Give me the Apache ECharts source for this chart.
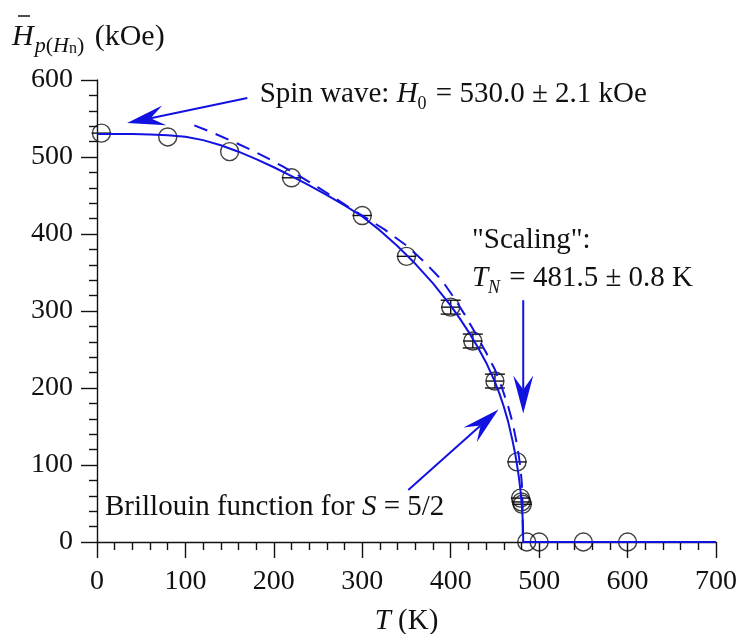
<!DOCTYPE html>
<html>
<head>
<meta charset="utf-8">
<script src="https://cdn.jsdelivr.net/npm/echarts@6/dist/echarts.min.js"></script>
<style>
  html, body { margin: 0; padding: 0; background: #fff; }
  #chart { width: 740px; height: 634px; }
</style>
</head>
<body>
<div id="chart"></div>
<script>
const BLUE = '#1212e0';
const INK = '#111111';
const FONT = '"Liberation Serif", "Times New Roman", serif';

// Axis ranges
const xRange = [0, 700];
const xStep = 100;
const yRange = [0, 600];
const yStep = 100;

// Measured mean hyperfine field versus temperature
const tempK    = [5, 80, 150, 220, 300, 350, 400, 425, 450, 475, 479, 480, 481, 486, 500, 550, 600];
const fieldKOe = [531, 526, 507, 473, 424, 371, 305, 261, 209, 104, 57, 52, 49, 0, 0, 0, 0];
const tempErr  = [11, 0, 0, 11, 11, 11, 11, 11, 10, 11, 11, 11, 11, 0, 0, 0, 0];
const fieldErr = [0, 0, 0, 0, 0, 0, 9, 9, 9, 0, 0, 0, 0, 0, 0, 0, 0];

// Brillouin function for S = 5/2 (solid curve)
const brillouinT = [0, 20, 40, 60, 80, 100, 120, 140, 160, 180, 200, 220, 240, 260, 280, 300, 320, 340, 360, 380, 400, 410, 420, 430, 440, 450, 455, 460, 465, 470, 473, 475, 477, 479, 480, 481, 481.5, 481.8, 482, 700];
const brillouinH = [530, 530, 529.8, 529.3, 528.3, 526.3, 521.9, 515.3, 506.9, 497.3, 486.7, 475.1, 463.1, 450.5, 437.1, 422.7, 404.7, 384.1, 361.3, 335.9, 306.9, 290.7, 273.2, 254.2, 233.2, 208, 193, 176, 156, 131, 114, 100, 85, 66, 53, 38, 27, 17, 0, 0];

// Critical scaling law (dashed curve)
const scalingT = [110, 130, 150, 170, 190, 210, 230, 250, 270, 290, 300, 325, 350, 370, 390, 405, 416, 426, 440, 450, 458, 465, 470, 474, 477, 479, 480.5, 481.2, 481.5];
const scalingH = [541, 532, 522, 511.6, 500.2, 487.8, 474.6, 460.6, 446, 431, 424, 406, 385, 364, 340, 315, 295, 275, 246, 224, 200, 176, 155, 132, 112, 95, 75, 50, 0];

// Annotation anchors in data coordinates [T, H]
const spinArrow = [[170, 576.6], [34, 544]];
const scalingArrow = [[482, 314], [482, 167]];
const brillouinArrow = [[352, 67.5], [454, 172]];
const spinLabelAt = [184, 568.5];
const scalingLabelAt = [424, 379];
const tnLabelAt = [424, 330];
const brillouinLabelAt = [9, 32.5];

const chart = echarts.init(document.getElementById('chart'), null, { renderer: 'canvas' });

const axisCommon = {
  type: 'value',
  axisLine: { show: true, onZero: false, lineStyle: { color: INK, width: 1.4 } },
  axisTick: { show: true, inside: false, length: 16, lineStyle: { color: INK, width: 1.4 } },
  minorTick: { show: true, splitNumber: 5, length: 8, lineStyle: { color: INK, width: 1.4 } },
  splitLine: { show: false },
  minorSplitLine: { show: false }
};

const errorData = tempK.map((t, i) => [t, fieldKOe[i], tempErr[i], fieldErr[i]]);

const option = {
  animation: false,
  backgroundColor: '#ffffff',
  grid: { left: 97, right: 24, top: 80, bottom: 92, containLabel: false },
  xAxis: Object.assign({}, axisCommon, {
    min: xRange[0], max: xRange[1], interval: xStep,
    axisLabel: { fontFamily: FONT, fontSize: 28, color: INK, margin: 26 }
  }),
  yAxis: Object.assign({}, axisCommon, {
    min: yRange[0], max: yRange[1], interval: yStep,
    axisLabel: { fontFamily: FONT, fontSize: 28, color: INK, margin: 24 }
  }),
  series: [
    {
      type: 'custom',
      z: 3,
      data: errorData,
      encode: { x: 0, y: 1 },
      renderItem: function (params, api) {
        const t = api.value(0), h = api.value(1), dt = api.value(2), dh = api.value(3);
        const style = { stroke: INK, lineWidth: 1.4 };
        const kids = [];
        if (dt > 0) {
          const a = api.coord([t - dt, h]), b = api.coord([t + dt, h]);
          kids.push({ type: 'line', shape: { x1: a[0], y1: a[1], x2: b[0], y2: b[1] }, style: style });
        }
        if (dh > 0) {
          const a = api.coord([t, h - dh]), b = api.coord([t, h + dh]);
          const cap = 10;
          kids.push({ type: 'line', shape: { x1: a[0], y1: a[1], x2: b[0], y2: b[1] }, style: style });
          kids.push({ type: 'line', shape: { x1: a[0] - cap, y1: a[1], x2: a[0] + cap, y2: a[1] }, style: style });
          kids.push({ type: 'line', shape: { x1: b[0] - cap, y1: b[1], x2: b[0] + cap, y2: b[1] }, style: style });
        }
        return { type: 'group', children: kids };
      }
    },
    {
      type: 'scatter',
      z: 4,
      data: tempK.map((t, i) => [t, fieldKOe[i]]),
      symbol: 'circle',
      symbolSize: 18,
      itemStyle: { color: 'rgba(0,0,0,0)', borderColor: INK, borderWidth: 1.4 }
    },
    {
      type: 'line',
      z: 5,
      data: brillouinT.map((t, i) => [t, brillouinH[i]]),
      showSymbol: false,
      symbol: 'none',
      smooth: false,
      lineStyle: { color: BLUE, width: 2 }
    },
    {
      type: 'line',
      z: 5,
      data: scalingT.map((t, i) => [t, scalingH[i]]),
      showSymbol: false,
      symbol: 'none',
      smooth: false,
      lineStyle: { color: BLUE, width: 2, type: [14, 9] }
    }
  ]
};

chart.setOption(option);

// ---- annotations ----
const measureCtx = document.createElement('canvas').getContext('2d');
const toPx = (p) => chart.convertToPixel({ gridIndex: 0 }, p);

function pieceFont(p) {
  return (p.italic ? 'italic' : 'normal') + ' ' + p.size + 'px ' + FONT;
}

function textRun(x, baseline, pieces, color) {
  const els = [];
  let cx = x;
  pieces.forEach(function (p) {
    measureCtx.font = pieceFont(p);
    const w = measureCtx.measureText(p.text).width;
    const by = baseline + (p.dy || 0);
    els.push({
      type: 'text', x: cx, y: by - 0.3375 * p.size, silent: true, z: 10,
      style: {
        text: p.text, fontFamily: FONT, fontSize: p.size, fontStyle: p.italic ? 'italic' : 'normal',
        fill: color, align: 'left', verticalAlign: 'middle'
      }
    });
    cx += w + (p.gap || 0);
  });
  return { els: els, width: cx - x };
}

function measureRun(pieces) {
  let w = 0;
  pieces.forEach(function (p) {
    measureCtx.font = pieceFont(p);
    w += measureCtx.measureText(p.text).width + (p.gap || 0);
  });
  return w;
}

function arrow(from, to, color) {
  const a = toPx(from), b = toPx(to);
  const dx = b[0] - a[0], dy = b[1] - a[1];
  const len = Math.hypot(dx, dy);
  const ux = dx / len, uy = dy / len, nx = -uy, ny = ux;
  const headLen = 38, headW = 10, notch = 24;
  const bx = b[0] - ux * headLen, by = b[1] - uy * headLen;
  const mx = b[0] - ux * notch, my = b[1] - uy * notch;
  return [
    { type: 'line', silent: true, z: 10,
      shape: { x1: a[0], y1: a[1], x2: mx, y2: my },
      style: { stroke: color, lineWidth: 2 } },
    { type: 'polygon', silent: true, z: 10,
      shape: { points: [[b[0], b[1]], [bx + nx * headW, by + ny * headW], [mx, my], [bx - nx * headW, by - ny * headW]] },
      style: { fill: color } }
  ];
}

const graphics = [];
const A = 29;   // annotation font size
const S = 18;   // subscript size

// Spin-wave label and arrow
let p = toPx(spinLabelAt);
graphics.push.apply(graphics, textRun(p[0], p[1], [
  { text: 'Spin wave: ', size: A },
  { text: 'H', size: A, italic: true },
  { text: '0', size: S, dy: 6, gap: 2 },
  { text: ' = 530.0 \u00b1 2.1 kOe', size: A }
], INK).els);
graphics.push.apply(graphics, arrow(spinArrow[0], spinArrow[1], BLUE));

// Scaling label and arrow
p = toPx(scalingLabelAt);
graphics.push.apply(graphics, textRun(p[0], p[1], [{ text: '"Scaling":', size: A }], INK).els);
p = toPx(tnLabelAt);
graphics.push.apply(graphics, textRun(p[0], p[1], [
  { text: 'T', size: A, italic: true },
  { text: 'N', size: S, italic: true, dy: 6, gap: 2 },
  { text: ' = 481.5 \u00b1 0.8 K', size: A }
], INK).els);
graphics.push.apply(graphics, arrow(scalingArrow[0], scalingArrow[1], BLUE));

// Brillouin label and arrow
p = toPx(brillouinLabelAt);
graphics.push.apply(graphics, textRun(p[0], p[1], [
  { text: 'Brillouin function for ', size: A },
  { text: 'S', size: A, italic: true },
  { text: ' = 5/2', size: A }
], INK).els);
graphics.push.apply(graphics, arrow(brillouinArrow[0], brillouinArrow[1], BLUE));

// X axis title: T (K), centred under the grid
const x0 = toPx([xRange[0], 0])[0], x1 = toPx([xRange[1], 0])[0];
const xTitle = [{ text: 'T', size: A, italic: true }, { text: ' (K)', size: A }];
const xTitleW = measureRun(xTitle);
graphics.push.apply(graphics, textRun((x0 + x1) / 2 - xTitleW / 2, 631, xTitle, INK).els);

// Y axis title: mean field with overbar and nested subscript
const yTitle = textRun(12, 47, [
  { text: 'H', size: 30, italic: true, gap: 1 },
  { text: 'p', size: 22, italic: true, dy: 7 },
  { text: '(', size: 22, dy: 7 },
  { text: 'H', size: 22, italic: true, dy: 7 },
  { text: 'n', size: 16, dy: 7 },
  { text: ')', size: 22, dy: 7, gap: 3 },
  { text: ' (kOe)', size: 30 }
], INK);
graphics.push.apply(graphics, yTitle.els);
graphics.push({
  type: 'line', silent: true, z: 10,
  shape: { x1: 18, y1: 16, x2: 30, y2: 16 },
  style: { stroke: INK, lineWidth: 1.5 }
});

chart.setOption({ graphic: graphics });
</script>
</body>
</html>
